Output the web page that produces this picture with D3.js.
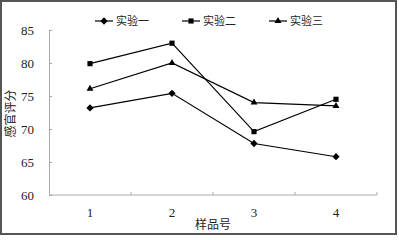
<!doctype html>
<html lang="zh">
  <head>
    <meta charset="utf-8">
    <title>感官评分</title>
    <script src="https://d3js.org/d3.v7.min.js"></script>
    <style>
      body { margin: 0; background: #fff; }
    </style>
  </head>
  <body>
    <svg width="399" height="240"></svg>
    <script>
      var samples = ["1", "2", "3", "4"];
      var exp1 = [73.2, 75.4, 67.8, 65.8];
      var exp2 = [79.9, 83.0, 69.6, 74.5];
      var exp3 = [76.1, 80.0, 74.0, 73.5];
      var seriesNames = ["实验一", "实验二", "实验三"];
      var yTicks = [60, 65, 70, 75, 80, 85];

      var serif = "'Liberation Serif', 'DejaVu Serif', serif";
      var cjk = "'Noto Sans CJK SC', sans-serif";

      var svg = d3.select("svg"),
          margin = {top: 30, right: 22, bottom: 45, left: 49},
          width = +svg.attr("width") - margin.left - margin.right,
          height = +svg.attr("height") - margin.top - margin.bottom;

      // outer frame
      svg.append("rect")
        .attr("x", 1).attr("y", 1)
        .attr("width", 395).attr("height", 233)
        .attr("fill", "#fff")
        .attr("stroke", "#555")
        .attr("stroke-width", 2);

      var g = svg.append("g").attr("transform", "translate(" + margin.left + "," + margin.top + ")");

      var x = d3.scaleBand().domain(samples).range([0, width]);
      var y = d3.scaleLinear().domain([60, 85]).range([height, 0]);

      // y axis, ticks pointing inward
      var yAxis = g.append("g")
        .call(d3.axisRight(y).tickValues(yTicks).tickSize(3).tickFormat(d3.format("d")));
      yAxis.select(".domain").attr("stroke", "#aaa");
      yAxis.selectAll(".tick line").attr("stroke", "#aaa");
      yAxis.selectAll(".tick text")
        .attr("x", -15).attr("text-anchor", "end")
        .attr("font-family", serif)
        .attr("font-size", 13).attr("fill", "#222");

      // x axis, ticks between categories pointing up
      var xAxis = g.append("g").attr("transform", "translate(0," + height + ")");
      xAxis.append("line")
        .attr("x1", 0).attr("x2", width)
        .attr("stroke", "#aaa");
      xAxis.selectAll(".sep")
        .data(samples)
        .enter().append("line")
        .attr("x1", function(d) { return x(d) + x.bandwidth(); })
        .attr("x2", function(d) { return x(d) + x.bandwidth(); })
        .attr("y1", 0).attr("y2", -3)
        .attr("stroke", "#aaa");
      xAxis.selectAll(".lab")
        .data(samples)
        .enter().append("text")
        .attr("x", function(d) { return x(d) + x.bandwidth() / 2; })
        .attr("y", 22)
        .attr("text-anchor", "middle")
        .attr("font-family", serif)
        .attr("font-size", 13)
        .attr("fill", "#222")
        .text(function(d) { return d; });

      g.append("text")
        .attr("x", width / 2)
        .attr("y", height + 34)
        .attr("text-anchor", "middle")
        .attr("font-size", 12)
        .attr("font-family", cjk)
        .attr("fill", "#222")
        .text("样品号");

      g.append("text")
        .attr("transform", "translate(-38," + (height / 2 + 1) + ") rotate(-90)")
        .attr("text-anchor", "middle")
        .attr("dy", "0.35em")
        .attr("font-size", 12)
        .attr("font-family", cjk)
        .attr("fill", "#222")
        .text("感官评分");

      var symbols = [d3.symbolDiamond2, d3.symbolSquare2, d3.symbolTriangle2];
      var series = [exp1, exp2, exp3];

      var line = d3.line()
        .x(function(d, i) { return x(samples[i]) + x.bandwidth() / 2; })
        .y(function(d) { return y(d); });

      function marker(sel, k) {
        sel.attr("d", d3.symbol().type(symbols[k]).size(34)())
          .attr("fill", "#000");
      }

      series.forEach(function(data, k) {
        g.append("path")
          .datum(data)
          .attr("fill", "none")
          .attr("stroke", "#000")
          .attr("stroke-width", 1.2)
          .attr("d", line);
        g.selectAll(".m" + k)
          .data(data)
          .enter().append("path")
          .attr("transform", function(d, i) {
            return "translate(" + (x(samples[i]) + x.bandwidth() / 2) + "," + y(d) + ")";
          })
          .call(marker, k);
      });

      // legend
      var legendX = [95, 182, 269];
      seriesNames.forEach(function(name, k) {
        var lg = svg.append("g").attr("transform", "translate(" + legendX[k] + ",21)");
        lg.append("line").attr("x1", 0).attr("x2", 18)
          .attr("stroke", "#000").attr("stroke-width", 1.2);
        lg.append("path").attr("transform", "translate(9,0)").call(marker, k);
        lg.append("text")
          .attr("x", 21).attr("dy", "0.35em")
          .attr("font-size", 11)
          .attr("font-family", cjk)
          .attr("fill", "#222")
          .text(name);
      });
    </script>
  </body>
</html>
